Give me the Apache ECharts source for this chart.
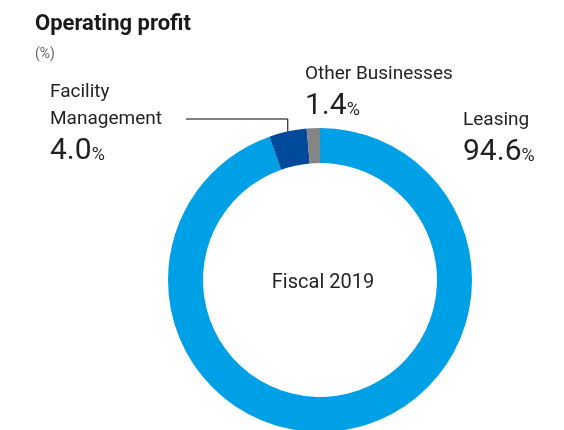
<!DOCTYPE html>
<html>
<head>
<meta charset="utf-8">
<script src="https://cdn.jsdelivr.net/npm/echarts@6/dist/echarts.min.js"></script>
<style>
  html, body { margin: 0; padding: 0; background: #fff; }
  #chart { width: 564px; height: 430px; }
</style>
</head>
<body>
<div id="chart"></div>
<script>
// Operating profit breakdown by segment, Fiscal 2019 (%)
const segments = ['Leasing', 'Facility\nManagement', 'Other Businesses'];
const shares = [94.6, 4.0, 1.4];
const segmentColors = ['#00a0e6', '#004a9c', '#858585'];

// Top-left corner of each segment's label block
const labelAnchors = [[463, 107], [50, 79], [305, 61]];
// Segments that get a leader line, and where that line ends
const leaderEnd = { 1: [186, 119] };

const FONT = 'Roboto, "Noto Sans", sans-serif';
const TEXT = '#231f20';

function labelText(p) {
  const nameLines = p.name.split('\n').map(s => '{name|' + s + '}').join('\n');
  return nameLines + '\n{val|' + p.value.toFixed(1) + '}{pct|%}';
}

const chart = echarts.init(document.getElementById('chart'), null, { renderer: 'canvas' });

chart.setOption({
  animation: false,
  title: [
    {
      text: 'Operating profit',
      subtext: '(%)',
      left: 30,
      top: 8,
      itemGap: 12,
      textStyle: { fontFamily: FONT, fontSize: 22, fontWeight: 'bold', color: '#1a1a1a' },
      subtextStyle: { fontFamily: FONT, fontSize: 14, color: '#666' }
    },
    {
      text: 'Fiscal 2019',
      left: 318,
      top: 268,
      textAlign: 'center',
      textStyle: { fontFamily: FONT, fontSize: 20, fontWeight: 'normal', color: TEXT }
    }
  ],
  series: [{
    type: 'pie',
    center: [320, 280],
    radius: [117, 152],
    startAngle: 90,
    clockwise: true,
    avoidLabelOverlap: false,
    silent: true,
    data: segments.map((name, i) => ({
      name: name,
      value: shares[i],
      itemStyle: { color: segmentColors[i] },
      labelLine: { show: leaderEnd[i] !== undefined }
    })),
    label: {
      show: true,
      position: 'outside',
      formatter: labelText,
      rich: {
        name: { fontFamily: FONT, fontSize: 19, lineHeight: 27, color: TEXT },
        val: { fontFamily: FONT, fontSize: 30, lineHeight: 36, color: TEXT },
        pct: { fontFamily: FONT, fontSize: 18, padding: [8, 0, 0, 0], color: TEXT }
      }
    },
    labelLine: {
      show: true,
      lineStyle: { color: '#000', width: 1 }
    },
    labelLayout: function (params) {
      const i = params.dataIndex;
      const out = {
        x: labelAnchors[i][0],
        y: labelAnchors[i][1],
        align: 'left',
        verticalAlign: 'top'
      };
      if (leaderEnd[i] && params.labelLinePoints) {
        const start = params.labelLinePoints[0];
        const end = leaderEnd[i];
        out.labelLinePoints = [[start[0], start[1]], [start[0], end[1]], [end[0], end[1]]];
      }
      return out;
    }
  }]
});
</script>
</body>
</html>
